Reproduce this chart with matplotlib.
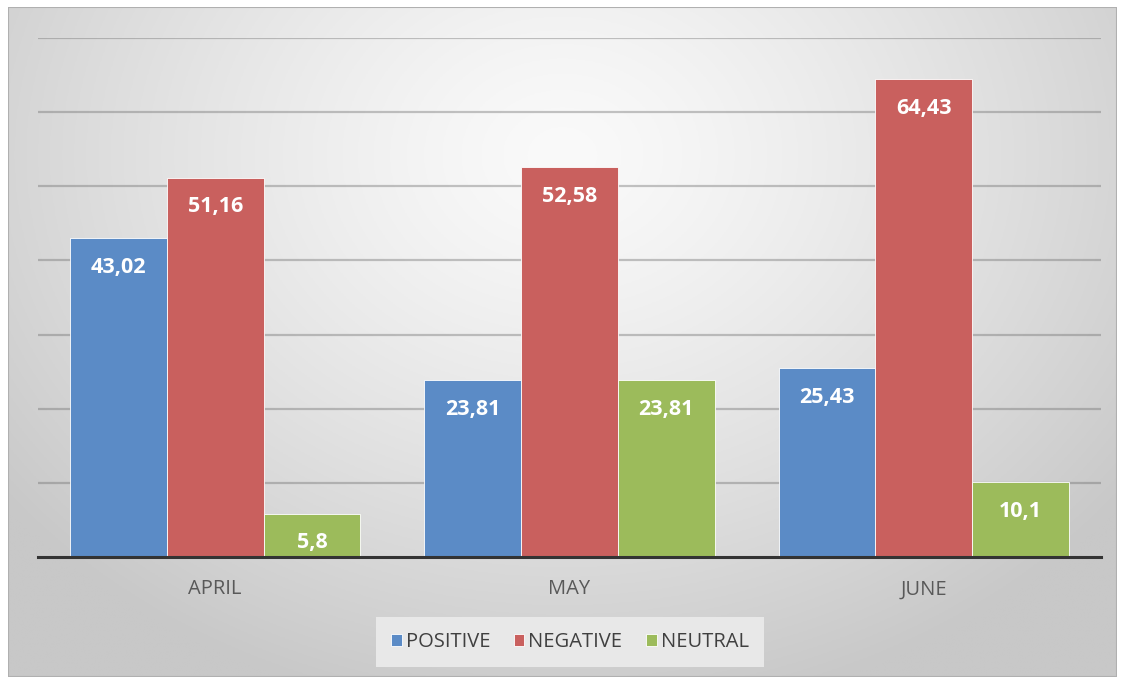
import numpy as np
import matplotlib.pyplot as plt
from matplotlib.patches import Rectangle

months = ["APRIL", "MAY", "JUNE"]
series_names = ["POSITIVE", "NEGATIVE", "NEUTRAL"]
positive = [43.02, 23.81, 25.43]
negative = [51.16, 52.58, 64.43]
neutral = [5.8, 23.81, 10.1]

colors = ["#5B8BC6", "#C9605E", "#9CBB5B"]

W, H = 1121, 680
fig = plt.figure(figsize=(W / 100, H / 100), dpi=100)
fig.patch.set_facecolor("white")

# radial gradient background inside the chart frame
x0, y0, x1, y1 = 8, 7, 1117, 677
bg = fig.add_axes([x0 / W, 1 - y1 / H, (x1 - x0) / W, (y1 - y0) / H])
bg.set_axis_off()
gx = np.linspace(0, 1, 400)
gy = np.linspace(0, 1, 250)
X, Y = np.meshgrid(gx, gy)
r = np.sqrt(((X - 0.5) / 0.75) ** 2 + ((Y - 0.22) / 1.0) ** 2)
r = np.clip(r / 0.85, 0, 1)
shade = 250 - 50 * r ** 1.3
img = np.dstack([shade, shade, shade]) / 255
bg.imshow(img, aspect="auto", extent=[0, 1, 1, 0], zorder=0)
bg.set_xlim(0, 1)
bg.set_ylim(1, 0)
bg.add_patch(Rectangle((0, 0), 1, 1, fill=False, edgecolor="#B0B0B0", lw=1.5,
                       transform=bg.transAxes))

ax = fig.add_axes([38 / W, 1 - 557 / H, (1101 - 38) / W, (557 - 38) / H])
ax.patch.set_alpha(0)

x = np.arange(len(months))
bw = 0.273
all_series = [positive, negative, neutral]
for i, (vals, name, c) in enumerate(zip(all_series, series_names, colors)):
    pos = x + (i - 1) * bw
    bars = ax.bar(pos, vals, width=bw, color=c, label=name, zorder=3,
                  edgecolor="white", linewidth=0.6)
    for b, v in zip(bars, vals):
        ax.annotate(str(v).replace(".", ","),
                    (b.get_x() + b.get_width() / 2, v),
                    xytext=(0, -29), textcoords="offset pixels",
                    ha="center", va="center", color="white",
                    fontsize=15.5, fontweight="bold", family="Open Sans", zorder=4)

ax.set_xlim(-0.5, 2.5)
ax.set_ylim(0, 70)
ax.set_yticks(np.arange(10, 71, 10))
ax.yaxis.grid(True, color="#6E6E6E", alpha=0.4, lw=1.6, zorder=1)
ax.tick_params(axis="y", left=False, labelleft=False)
ax.set_xticks(x)
ax.set_xticklabels(months, family="Open Sans", fontsize=14.5, color="#595959")
ax.tick_params(axis="x", length=0, pad=16)
for s in ["top", "right", "left"]:
    ax.spines[s].set_visible(False)
ax.spines["bottom"].set_color("#333333")
ax.spines["bottom"].set_linewidth(2.2)
ax.spines["bottom"].set_zorder(5)

leg = fig.legend(loc="center", bbox_to_anchor=(570 / W, 1 - 642 / H), ncol=3,
                 frameon=True, fancybox=False, facecolor="#E8E8E8", edgecolor="none",
                 framealpha=1, handlelength=0.5, handleheight=0.5, handletextpad=0.2,
                 columnspacing=1.2, borderpad=0.75,
                 prop={"family": "Open Sans", "size": 14.5})
for t in leg.get_texts():
    t.set_color("#404040")

fig.savefig("out.png", dpi=100)
